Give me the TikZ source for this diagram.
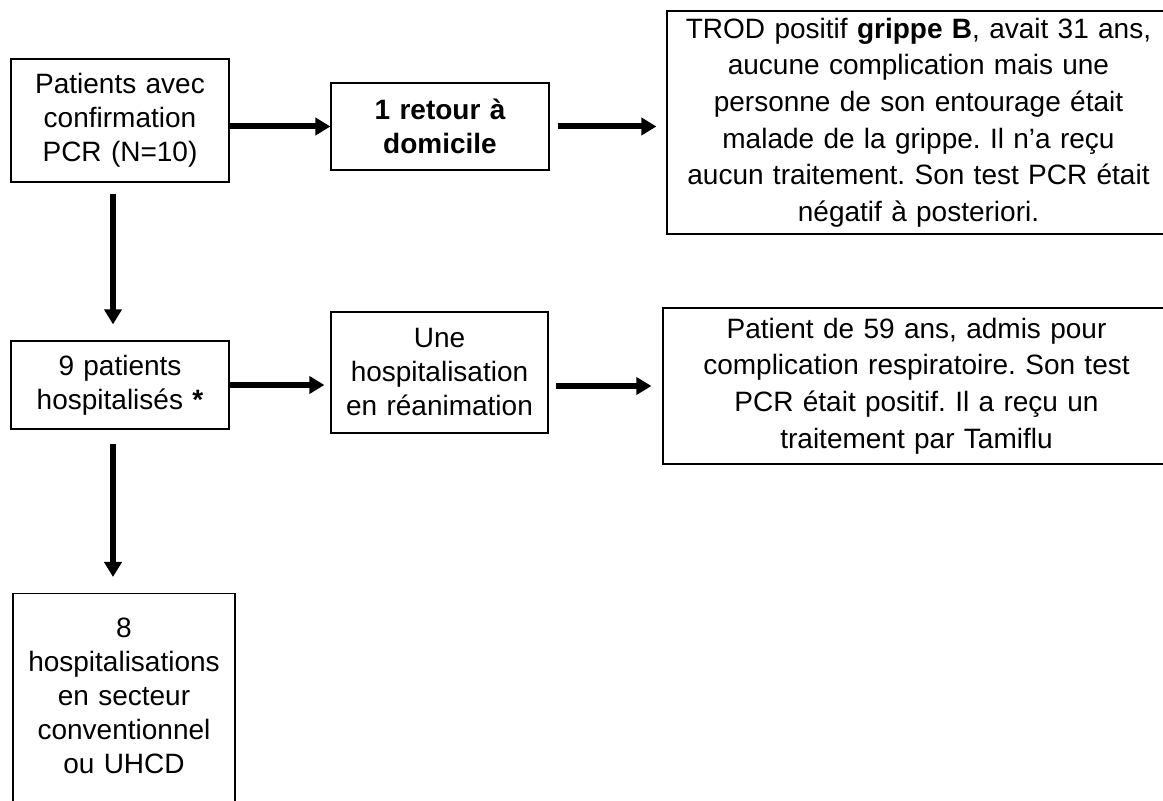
\documentclass[tikz,border=0pt]{standalone}
\usepackage{fontspec}
\setmainfont{Liberation Sans}
\usetikzlibrary{arrows.meta}
\frenchspacing
\begin{document}
\begin{tikzpicture}[x=0.5pt,y=-0.5pt,
  box/.style={draw, line width=0.6pt, inner sep=0pt, align=center, font=\fontsize{14}{17}\selectfont},
  bigbox/.style={box, font=\fontsize{14}{18.3}\selectfont},
  fleche/.style={line width=3pt, -{Triangle[length=7.5pt,width=8.5pt]}}]

\useasboundingbox (0,0) rectangle (1163,801);
\clip (0,0) rectangle (1163,801);

% premiere ligne
 \node[box, text width=109pt, minimum height=61.5pt] (pcr) at (120,120.5) {Patients avec\\confirmation\\PCR (N=10)};
 \node[box, text width=109pt, minimum height=43.5pt, font=\fontsize{14}{17}\selectfont\bfseries] (dom) at (440,126.5) {1 retour à\\domicile};
 \node[bigbox, text width=251.5pt, minimum height=111.5pt] (trod) at (918.5,122.5) {TROD positif \textbf{grippe B}, avait 31 ans,\\aucune complication mais une\\personne de son entourage était\\malade de la grippe. Il n’a reçu\\aucun traitement. Son test PCR était\\négatif à posteriori.};

% deuxieme ligne
 \node[box, text width=109pt, minimum height=44pt] (hosp) at (120,385) {9 patients\\hospitalisés \textbf{*}};
 \node[box, text width=108.5pt, minimum height=60.5pt] (rea) at (439.5,372.5) {Une\\hospitalisation\\en réanimation};
 \node[bigbox, text width=253.5pt, minimum height=78pt] (tami) at (916.5,386) {Patient de 59 ans, admis pour\\complication respiratoire. Son test\\PCR était positif. Il a reçu un\\traitement par Tamiflu};

% en bas (coupe par le bord)
 \node[box, text width=111pt, inner ysep=12pt, text depth=100pt, anchor=north] (conv) at (124,593) {8\\hospitalisations\\en secteur\\conventionnel\\ou UHCD};

 \draw[fleche] (pcr.east |- dom) -- (dom);
 \draw[fleche, shorten <=4pt, shorten >=5pt] (dom.east) -- (dom.east -| trod.west);
 \draw[fleche, shorten <=5.5pt, shorten >=8pt] ([xshift=-3.5pt]pcr.south) -- ([xshift=-3.5pt]pcr.south |- hosp.north);
 \draw[fleche, shorten >=3pt] (hosp.east) -- (hosp.east -| rea.west);
 \draw[fleche, shorten <=3.5pt, shorten >=5.5pt] (rea.east |- tami.west) -- (tami.west);
 \draw[fleche, shorten <=7pt, shorten >=8pt] ([xshift=-3.5pt]hosp.south) -- ([xshift=-3.5pt]hosp.south |- conv.north);

\end{tikzpicture}
\end{document}
